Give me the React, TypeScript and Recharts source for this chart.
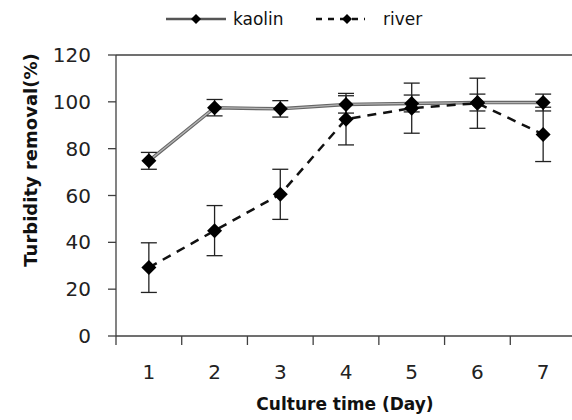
import { LineChart, Line, XAxis, YAxis, ErrorBar, Legend, ReferenceLine } from "recharts";

const days = [1, 2, 3, 4, 5, 6, 7];
const kaolin = [74.8, 97.5, 97, 98.9, 99.3, 99.7, 99.7];
const kaolinErr = [3.6, 3.5, 3.5, 3.7, 3.6, 3.6, 3.6];
const river = [29.2, 45, 60.5, 92.6, 97.3, 99.4, 86.1];
const riverErr = [10.6, 10.7, 10.7, 11, 10.7, 10.7, 11.6];
const yTicks = [0, 20, 40, 60, 80, 100, 120];
const xTicks = [0.5, 1, 1.5, 2, 2.5, 3, 3.5, 4, 4.5, 5, 5.5, 6, 6.5, 7, 7.5];

const AXIS = "#404040";
const FONT = "'DejaVu Sans', sans-serif";

const data = days.map((day, i) => ({
  day,
  kaolin: kaolin[i],
  kaolinErr: kaolinErr[i],
  river: river[i],
  riverErr: riverErr[i],
}));

function Diamond(props: any) {
  const { cx, cy, index } = props;
  if (cx == null || cy == null) return <g key={index} />;
  const r = 7.5;
  return (
    <polygon
      key={index}
      points={`${cx},${cy - r} ${cx + r},${cy} ${cx},${cy + r} ${cx - r},${cy}`}
      fill="#000"
    />
  );
}

function XTick(props: any) {
  const { x, y, payload } = props;
  const v = payload.value;
  if (Number.isInteger(v)) {
    return (
      <text x={x} y={y + 43} textAnchor="middle" fontFamily={FONT} fontSize={20} fill="#222">
        {v}
      </text>
    );
  }
  return <line x1={x} y1={y} x2={x} y2={y + 9} stroke={AXIS} strokeWidth={1.3} />;
}

function LegendContent() {
  // kaolin: solid line, river: dashed line
  return (
    <svg width={572} height={30} style={{ display: "block" }}>
      <line x1={166} y1={15} x2={226} y2={15} stroke="#555" strokeWidth={2.5} />
      <polygon points="196,10 201,15 196,20 191,15" fill="#000" />
      <text x={233} y={21} fontFamily={FONT} fontSize={17} fill="#111">kaolin</text>
      <line x1={316} y1={15} x2={365} y2={15} stroke="#111" strokeWidth={2.5} strokeDasharray="6 6" />
      <polygon points="347,10 352,15 347,20 342,15" fill="#000" />
      <text x={383} y={21} fontFamily={FONT} fontSize={17} fill="#111">river</text>
    </svg>
  );
}

export default function App() {
  return (
    <div
      style={{
        position: "absolute",
        left: 0,
        top: 0,
        width: 572,
        height: 420,
        overflow: "hidden",
        background: "#fff",
      }}
    >
      <LineChart
        width={580}
        height={420}
        data={data}
        margin={{ top: 55, right: 4, bottom: 44, left: 0 }}
      >
        <ReferenceLine y={120} stroke={AXIS} strokeWidth={1.3} />
        <XAxis
          dataKey="day"
          type="number"
          domain={[0.5, 7.5]}
          ticks={xTicks}
          interval={0}
          tickLine={false}
          tickSize={0}
          tickMargin={0}
          tick={<XTick />}
          axisLine={{ stroke: AXIS, strokeWidth: 1.3 }}
          height={40}
          label={{
            content: () => (
              <text x={345} y={410} textAnchor="middle" fontFamily={FONT} fontSize={17} fontWeight="bold" fill="#111">
                Culture time (Day)
              </text>
            ),
          }}
        />
        <YAxis
          domain={[0, 120]}
          ticks={yTicks}
          interval={0}
          width={116}
          tickSize={8}
          tickMargin={17}
          tickLine={{ stroke: AXIS, strokeWidth: 1.3 }}
          axisLine={{ stroke: AXIS, strokeWidth: 1.3 }}
          tick={{ fontFamily: FONT, fontSize: 20, fill: "#222" }}
          label={{
            content: () => (
              <text
                transform="translate(37,160) rotate(-90)"
                textAnchor="middle"
                fontFamily={FONT}
                fontSize={18}
                fontWeight="bold"
                fill="#111"
              >
                Turbidity removal(%)
              </text>
            ),
          }}
        />
        <Legend
          layout="horizontal"
          verticalAlign="middle"
          align="center"
          wrapperStyle={{ top: 4, left: 0, width: 572 }}
          content={<LegendContent />}
        />
        <Line
          dataKey="kaolin"
          name="kaolin"
          stroke="#666"
          strokeWidth={3.5}
          dot={false}
          activeDot={false}
          isAnimationActive={false}
          legendType="none"
        />
        <Line
          dataKey="kaolin"
          name="kaolin"
          stroke="#b4b4b4"
          strokeWidth={1.3}
          dot={<Diamond />}
          activeDot={false}
          isAnimationActive={false}
        >
          <ErrorBar dataKey="kaolinErr" width={8} stroke="#222" strokeWidth={1.3} direction="y" />
        </Line>
        <Line
          dataKey="river"
          name="river"
          stroke="#111"
          strokeWidth={2.5}
          strokeDasharray="9 7"
          dot={<Diamond />}
          activeDot={false}
          isAnimationActive={false}
        >
          <ErrorBar dataKey="riverErr" width={8} stroke="#222" strokeWidth={1.3} direction="y" />
        </Line>
      </LineChart>
    </div>
  );
}
